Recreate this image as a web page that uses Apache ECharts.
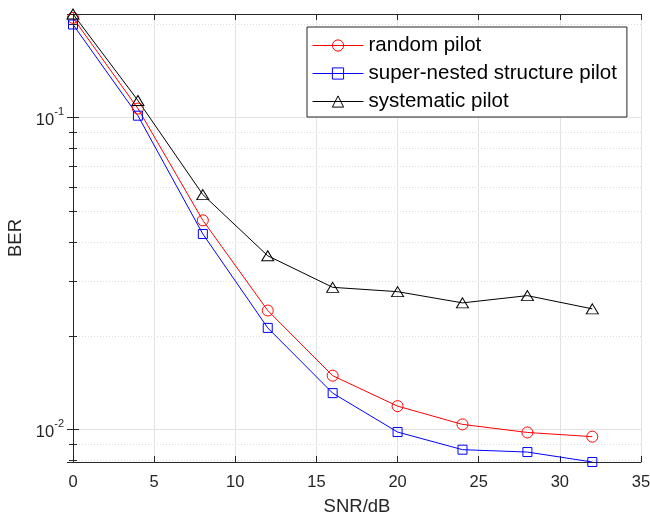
<!DOCTYPE html>
<html>
<head>
<meta charset="utf-8">
<script src="https://cdn.jsdelivr.net/npm/echarts@6/dist/echarts.min.js"></script>
<style>
  html, body { margin: 0; padding: 0; background: #fff; }
  #chart { width: 650px; height: 517px; }
</style>
</head>
<body>
<div id="chart"></div>
<script>
// SNR points (dB)
const snr = [0, 4, 8, 12, 16, 20, 24, 28, 32];
// BER
const randomPilot = [0.209, 0.107, 0.0469, 0.0241, 0.0149, 0.0119, 0.0104, 0.0098, 0.0095];
const nestedPilot = [0.199, 0.1015, 0.0424, 0.0212, 0.0131, 0.00983, 0.00863, 0.00848, 0.00788];
const systematicPilot = [0.215, 0.1136, 0.0567, 0.0361, 0.0286, 0.0277, 0.0255, 0.0269, 0.0244];
const seriesNames = ['random pilot', 'super-nested structure pilot', 'systematic pilot'];

const yMin = 0.00788, yMax = 0.215;
const axisColor = '#262626';
const font = "'Liberation Sans', Arial, Helvetica, sans-serif";

function pairs(arr) {
    return snr.map((x, i) => [x, arr[i]]);
}

function powLabel(v) {
    let e = Math.log10(v);
    if (Math.abs(e - Math.round(e)) > 1e-6) return '';
    return '{b|10}{s|' + Math.round(e) + '}';
}

function lineSeries(name, data, color, symbol, size) {
    return {
        name: name,
        type: 'line',
        data: pairs(data),
        symbol: symbol,
        symbolSize: size,
        clip: false,
        lineStyle: { color: color, width: 1 },
        itemStyle: { color: 'rgba(0,0,0,0)', borderColor: color, borderWidth: 1 },
        emphasis: { disabled: true }
    };
}

let chart = echarts.init(document.getElementById('chart'));
let option = {
    animation: false,
    textStyle: { fontFamily: font },
    grid: { left: 73, right: 9, top: 14, bottom: 55, outerBoundsMode: 'none' },
    legend: {
        orient: 'vertical',
        left: 307,
        top: 27,
        itemWidth: 51,
        itemHeight: 14,
        itemGap: 7,
        padding: [8, 10, 5, 5],
        borderColor: axisColor,
        borderWidth: 1,
        borderRadius: 0,
        backgroundColor: '#fff',
        lineStyle: { width: 1 },
        itemStyle: { borderWidth: 1 },
        textStyle: { fontSize: 20.5, color: '#000', fontFamily: font },
        data: seriesNames
    },
    xAxis: [
        {
            type: 'value',
            min: 0,
            max: 35,
            interval: 5,
            name: 'SNR/dB',
            nameLocation: 'middle',
            nameGap: 35,
            nameTextStyle: { fontSize: 18.5, color: axisColor },
            axisLine: { lineStyle: { color: axisColor } },
            axisTick: { inside: true, length: 6, lineStyle: { color: axisColor } },
            minorTick: { show: false },
            axisLabel: { fontSize: 16.5, color: axisColor, margin: 12 },
            splitLine: { show: true, lineStyle: { color: '#e2e2e2' } },
            minorSplitLine: { show: false }
        },
        {
            type: 'value',
            position: 'top',
            min: 0,
            max: 35,
            interval: 5,
            axisLine: { show: true, lineStyle: { color: axisColor } },
            axisTick: { show: true, inside: true, length: 6, lineStyle: { color: axisColor } },
            minorTick: { show: false },
            axisLabel: { show: false },
            splitLine: { show: false },
            minorSplitLine: { show: false }
        }
    ],
    yAxis: [
        {
            type: 'log',
            min: yMin,
            max: yMax,
            name: 'BER',
            nameLocation: 'middle',
            nameGap: 48,
            nameTextStyle: { fontSize: 18.5, color: axisColor },
            axisLine: { show: true, lineStyle: { color: axisColor } },
            axisTick: { show: true, inside: true, length: 6, lineStyle: { color: axisColor } },
            minorTick: { show: true, splitNumber: 9, length: 4, lineStyle: { color: axisColor } },
            axisLabel: {
                color: axisColor,
                margin: 9,
                formatter: powLabel,
                rich: {
                    b: { fontSize: 16.5, color: axisColor, fontFamily: font, padding: [6, 0, 0, 0] },
                    s: { fontSize: 11, color: axisColor, fontFamily: font, verticalAlign: 'top' }
                }
            },
            splitLine: { show: true, lineStyle: { color: '#e2e2e2' } },
            minorSplitLine: { show: true, lineStyle: { color: '#dcdcdc', type: [1, 2] } }
        },
        {
            type: 'log',
            position: 'right',
            min: yMin,
            max: yMax,
            axisLine: { show: true, lineStyle: { color: axisColor } },
            axisTick: { show: true, inside: true, length: 6, lineStyle: { color: axisColor } },
            minorTick: { show: true, splitNumber: 9, length: 4, lineStyle: { color: axisColor } },
            axisLabel: { show: false },
            splitLine: { show: false }
        }
    ],
    series: [
        lineSeries(seriesNames[0], randomPilot, '#ff0000', 'circle', 11),
        lineSeries(seriesNames[1], nestedPilot, '#0000ff', 'rect', 9),
        lineSeries(seriesNames[2], systematicPilot, '#000000', 'triangle', [12, 10])
    ]
};
chart.setOption(option);
</script>
</body>
</html>
